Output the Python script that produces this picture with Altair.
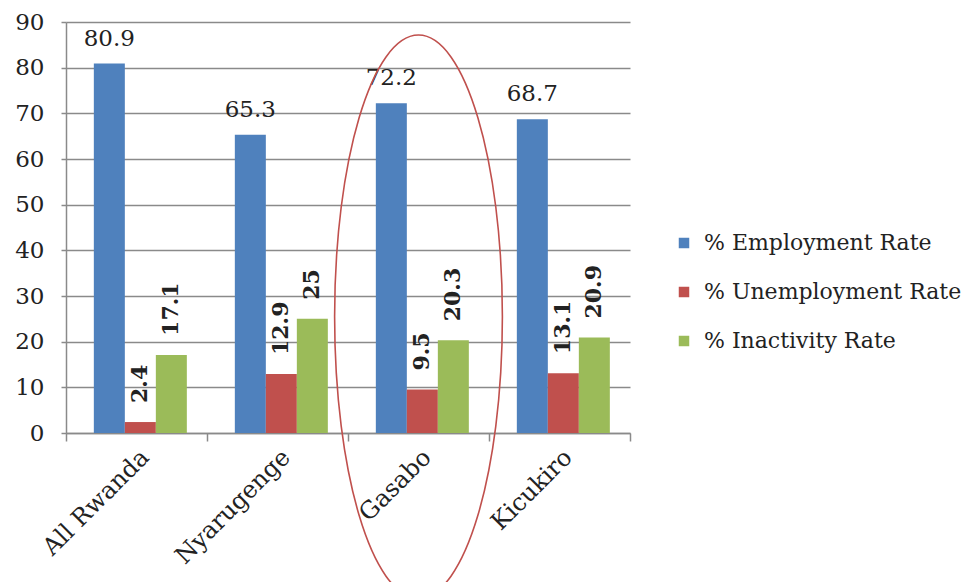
import altair as alt
import pandas as pd

# ---- data ----
categories = ["All Rwanda", "Nyarugenge", "Gasabo", "Kicukiro"]
series = ["% Employment Rate", "% Unemployment Rate", "% Inactivity Rate"]
employment = [80.9, 65.3, 72.2, 68.7]
unemployment = [2.4, 12.9, 9.5, 13.1]
inactivity = [17.1, 25, 20.3, 20.9]
colors = ["#4f81bd", "#c0504d", "#9bbb59"]
y_ticks = [0, 10, 20, 30, 40, 50, 60, 70, 80, 90]

# highlighted district (red ellipse annotation)
highlight_category = ["Gasabo"]
highlight_center = [25.5]

rows = []
for i, c in enumerate(categories):
    for s, vals in zip(series, [employment, unemployment, inactivity]):
        rows.append({"district": c, "series": s, "value": vals[i], "label": f"{vals[i]:g}"})
df = pd.DataFrame(rows)
ann = pd.DataFrame({"district": highlight_category, "value": highlight_center})

FONT = "DejaVu Serif"
GRID = "#8a8a8a"

x_enc = alt.X(
    "district:N", sort=categories,
    scale=alt.Scale(paddingInner=0, paddingOuter=0),
    axis=alt.Axis(title=None, labelAngle=-45, labelAlign="right", labelBaseline="top",
                  tickBand="extent", ticks=True, tickSize=8, labelPadding=4, grid=False,
                  domainColor=GRID, domainWidth=1.5, tickColor=GRID, tickWidth=1.5,
                  labelFont=FONT, labelFontSize=24, labelColor="#222"),
)
xoff_enc = alt.XOffset("series:N", sort=series,
                       scale=alt.Scale(paddingInner=0, paddingOuter=0.774, align=0.58))
y_enc = alt.Y(
    "value:Q", scale=alt.Scale(domain=[0, 90], nice=False),
    axis=alt.Axis(values=y_ticks, title=None, grid=True, gridColor=GRID, gridWidth=1.5,
                  domainColor=GRID, domainWidth=1.5, tickColor=GRID, tickWidth=1.5, tickSize=5,
                  labelPadding=17, labelFont=FONT, labelFontSize=23, labelColor="#222"),
)

base = alt.Chart(df)

bars = base.mark_bar().encode(
    x=x_enc, xOffset=xoff_enc, y=y_enc,
    color=alt.Color("series:N", sort=series,
                    scale=alt.Scale(domain=series, range=colors),
                    legend=alt.Legend(title=None, orient="none", legendX=607, legendY=210,
                                      symbolType="square", symbolSize=110, symbolStrokeWidth=0,
                                      labelFont=FONT, labelFontSize=22, labelColor="#222",
                                      labelLimit=0, labelOffset=9, rowPadding=27, padding=0)),
)

blue_labels = base.transform_filter(alt.datum.series == series[0]).mark_text(
    baseline="alphabetic", dy=-18, font=FONT, fontSize=23, color="#222"
).encode(x=x_enc, xOffset=xoff_enc, y=y_enc, text="label:N")

rot_labels = base.transform_filter(alt.datum.series != series[0]).mark_text(
    angle=270, align="left", baseline="middle", dx=19, font=FONT, fontSize=22,
    fontWeight="bold", color="#222"
).encode(x=x_enc, xOffset=xoff_enc, y=y_enc, text="label:N")

k = 0.298
kc = round(k * 0.5523, 4)
ellipse_path = (f"M 0 -1 C {kc} -1 {k} -0.5523 {k} 0 C {k} 0.5523 {kc} 1 0 1 "
                f"C {-kc} 1 {-k} 0.5523 {-k} 0 C {-k} -0.5523 {-kc} -1 0 -1 Z")

ellipse = alt.Chart(ann).mark_point(
    shape=ellipse_path, size=316969, filled=False, stroke="#c0504d",
    strokeWidth=1.6, opacity=1
).encode(x=alt.X("district:N", sort=categories), y=alt.Y("value:Q"))

chart = alt.layer(bars, blue_labels, rot_labels, ellipse).properties(
    width=564, height=411,
    autosize=alt.AutoSizeParams(type="none"),
    padding={"left": 66, "top": 22, "right": 349, "bottom": 149},
    background="white",
).configure_view(stroke=None)

chart.save("out.html", embed_options={"renderer": "svg", "actions": False})
